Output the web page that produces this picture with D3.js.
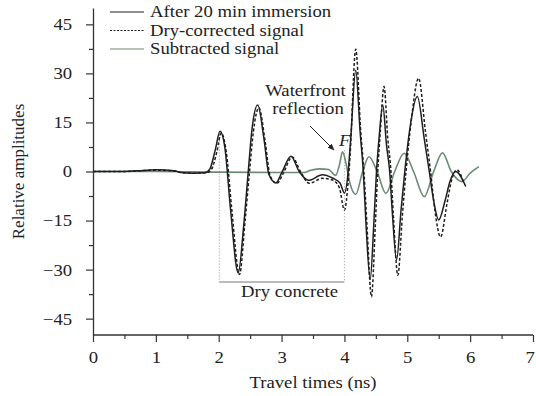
<!DOCTYPE html>
<html>
<head>
<meta charset="utf-8">
<script src="https://cdn.jsdelivr.net/npm/d3@7"></script>
<style>
  body { margin: 0; background: #fff; }
  svg text { font-family: "Liberation Serif", "Times New Roman", serif; fill: #222; }
</style>
</head>
<body>
<div id="chart"></div>
<script>
// Waveforms: [travel time (ns), relative amplitude]
var afterImmersion = [
  [0, 0], [0.5, 0], [0.7, 0.2], [1.0, 0.5], [1.3, 0.2], [1.4, -0.3], [1.6, -0.5], [1.78, -0.4],
  [1.86, 0.8], [1.95, 7], [2.02, 12.3], [2.1, 7], [2.19, -12], [2.31, -31], [2.4, -16], [2.47, 0],
  [2.53, 13], [2.62, 20.3], [2.72, 10], [2.8, -1], [2.91, -3.5], [3.0, -0.5], [3.15, 4.7], [3.28, 0],
  [3.43, -2.7], [3.65, -1], [3.81, -2], [3.93, -3.5], [4.0, -6.6], [4.06, 0], [4.1, 10], [4.18, 31],
  [4.25, 12], [4.3, 0], [4.34, -15], [4.41, -33], [4.47, -15], [4.51, 0], [4.55, 10], [4.61, 20.3],
  [4.67, 8], [4.72, 0], [4.76, -12], [4.83, -27], [4.9, -12], [4.96, 0], [5.04, 13], [5.16, 22.9],
  [5.27, 10], [5.35, 0], [5.42, -9], [5.5, -14.8], [5.6, -9], [5.68, -3], [5.77, 0], [5.93, -4.6]
];

var dryCorrected = [
  [0, 0], [0.5, 0], [0.7, 0.2], [1.0, 0.4], [1.3, 0.1], [1.4, -0.3], [1.6, -0.5], [1.8, -0.4],
  [1.88, 0.5], [1.97, 6], [2.04, 11.8], [2.12, 6], [2.21, -12], [2.33, -31.5], [2.42, -15], [2.49, 0],
  [2.55, 12], [2.64, 19.5], [2.74, 9], [2.82, -1.5], [2.93, -3.6], [3.02, -0.8], [3.17, 4.4], [3.3, 0],
  [3.44, -3.6], [3.65, -2.1], [3.81, -2.6], [3.92, -5], [4.0, -11.8], [4.06, -3], [4.09, 5], [4.18, 37.4],
  [4.26, 12], [4.31, 0], [4.36, -17], [4.43, -38.3], [4.49, -17], [4.53, 0], [4.57, 12], [4.63, 26],
  [4.69, 10], [4.74, 0], [4.78, -14], [4.85, -31.7], [4.92, -14], [4.98, 0], [5.06, 15], [5.18, 28.5],
  [5.29, 12], [5.37, 0], [5.44, -12], [5.53, -20], [5.63, -10], [5.7, -3], [5.79, 0.5], [5.9, -3.6]
];

var subtracted = [
  [0, 0], [1.0, 0], [2.0, -0.2], [3.0, -0.3], [3.36, -0.3], [3.45, 0.3], [3.6, 0.8], [3.75, 0.6],
  [3.86, -1.2], [3.92, 2], [3.97, 6], [4.03, 2], [4.08, -3], [4.18, -7], [4.29, 0], [4.39, 4.5],
  [4.52, 0], [4.66, -6.7], [4.8, 0], [4.95, 5.6], [5.1, 0], [5.27, -7.7], [5.42, 0], [5.56, 5.7],
  [5.7, 0], [5.87, -3.1], [6.0, -0.5], [6.14, 1.5]
];

var xTicks = [0, 1, 2, 3, 4, 5, 6, 7];
var yTicks = [-45, -30, -15, 0, 15, 30, 45];

var legendNames = ["After 20 min immersion", "Dry-corrected signal", "Subtracted signal"];

var cfg = {
  w: 536, h: 396,
  margin: {top: 8, right: 2, bottom: 61, left: 93},
  black: "#1e1e1e",
  green: "#6a8c73",
  fontSize: "17px",
  stretch: 1.1        // the original lettering is a bit wide
};

var width = cfg.w - cfg.margin.left - cfg.margin.right,
    height = cfg.h - cfg.margin.top - cfg.margin.bottom;

var svg = d3.select("#chart")
  .append("svg")
    .attr("width", cfg.w)
    .attr("height", cfg.h);

var g = svg.append("g")
  .attr("transform", "translate(" + cfg.margin.left + "," + cfg.margin.top + ")");

// horizontal text, widened like the original
function label(parent, x0, y0, str) {
  return parent.append("text")
    .attr("transform", "translate(" + x0 + "," + y0 + ") scale(" + cfg.stretch + ",1)")
    .style("font-size", cfg.fontSize)
    .text(str);
}

var x = d3.scaleLinear().domain([0, 7]).range([0, 440]);
var y = d3.scaleLinear().domain([-50, 50]).range([height, 0]);

// axes: major ticks with labels, minor ticks halfway
var xAxis = g.append("g")
  .attr("transform", "translate(0," + height + ")")
  .call(d3.axisBottom(x).tickValues(xTicks).tickFormat(d3.format("d")).tickSize(7).tickPadding(9));
g.append("g")
  .attr("transform", "translate(0," + height + ")")
  .call(d3.axisBottom(x).tickValues(d3.range(0.5, 7, 1)).tickFormat("").tickSize(4))
  .select(".domain").remove();

var yAxis = g.append("g")
  .call(d3.axisLeft(y).tickValues(yTicks).tickFormat(d3.format("d")).tickSize(7).tickPadding(12).tickSizeOuter(0));
g.append("g")
  .call(d3.axisLeft(y).tickValues(d3.range(-37.5, 45, 15)).tickFormat("").tickSize(4))
  .select(".domain").remove();

g.selectAll(".domain").attr("stroke", "#333").attr("stroke-width", 1.3);
g.selectAll(".tick line").attr("stroke", "#333").attr("stroke-width", 1.2);
g.selectAll(".tick text")
  .style("font-size", cfg.fontSize)
  .attr("fill", "#222")
  .attr("transform", "scale(" + cfg.stretch + ",1)");
xAxis.select(".domain").attr("d", "M0,0H" + x(7));
xAxis.selectAll(".tick text").filter(d => d === 7).attr("x", -3);

// axis titles
label(svg, cfg.margin.left + x(3.5), 388, "Travel times (ns)")
  .attr("text-anchor", "middle");

svg.append("text")
  .attr("transform", "translate(24," + (cfg.margin.top + y(0)) + ") rotate(-90)")
  .attr("text-anchor", "middle")
  .style("font-size", cfg.fontSize)
  .text("Relative amplitudes");

// bracket for the dry concrete part
var bracketY = 282 - cfg.margin.top;
g.selectAll(".guide")
  .data([[2.01, 12.2], [4.0, 6.5]])
  .enter().append("line")
    .attr("x1", d => x(d[0])).attr("x2", d => x(d[0]))
    .attr("y1", d => y(d[1])).attr("y2", bracketY)
    .attr("stroke", "#999").attr("stroke-width", 1).attr("stroke-dasharray", "1,2");
g.append("line")
  .attr("x1", x(2.01)).attr("x2", x(4.0))
  .attr("y1", bracketY).attr("y2", bracketY)
  .attr("stroke", "#777").attr("stroke-width", 1);
label(g, x(3.0) + 8, bracketY + 15, "Dry concrete")
  .attr("text-anchor", "middle");

// signals
var line = d3.line()
  .x(d => x(d[0]))
  .y(d => y(d[1]))
  .curve(d3.curveMonotoneX);

g.append("path").datum(subtracted)
  .attr("d", line).attr("fill", "none")
  .attr("stroke", cfg.green).attr("stroke-width", 1.6);
g.append("path").datum(dryCorrected)
  .attr("d", line).attr("fill", "none")
  .attr("stroke", cfg.black).attr("stroke-width", 1.5).attr("stroke-dasharray", "3,2");
g.append("path").datum(afterImmersion)
  .attr("d", line).attr("fill", "none")
  .attr("stroke", cfg.black).attr("stroke-width", 1.5);

// waterfront annotation
svg.append("defs").append("marker")
  .attr("id", "arrow")
  .attr("viewBox", "0 0 10 10")
  .attr("refX", 9).attr("refY", 5)
  .attr("markerWidth", 7).attr("markerHeight", 7)
  .attr("orient", "auto")
  .append("path").attr("d", "M0,1L10,5L0,9z").attr("fill", "#222");

label(g, x(3.38), 96 - cfg.margin.top, "Waterfront").attr("text-anchor", "middle");
label(g, x(3.42), 114 - cfg.margin.top, "reflection").attr("text-anchor", "middle");
g.append("line")
  .attr("x1", 310 - cfg.margin.left).attr("y1", 126 - cfg.margin.top)
  .attr("x2", 334 - cfg.margin.left).attr("y2", 150 - cfg.margin.top)
  .attr("stroke", "#222").attr("stroke-width", 1)
  .attr("marker-end", "url(#arrow)");
label(g, 339 - cfg.margin.left, 146 - cfg.margin.top, "F")
  .style("font-style", "italic");

// legend
var legend = svg.append("g").attr("transform", "translate(110,12)");
var legendStyles = [
  {stroke: cfg.black, dash: null},
  {stroke: cfg.black, dash: "2,1.5"},
  {stroke: cfg.green, dash: null}
];
legendNames.forEach(function(name, i) {
  var row = legend.append("g").attr("transform", "translate(0," + (i * 18.5) + ")");
  row.append("line")
    .attr("x1", 0).attr("x2", 34).attr("y1", 0).attr("y2", 0)
    .attr("stroke", legendStyles[i].stroke).attr("stroke-width", 1.2)
    .attr("stroke-dasharray", legendStyles[i].dash);
  label(row, 40, 5, name);
});
</script>
</body>
</html>
